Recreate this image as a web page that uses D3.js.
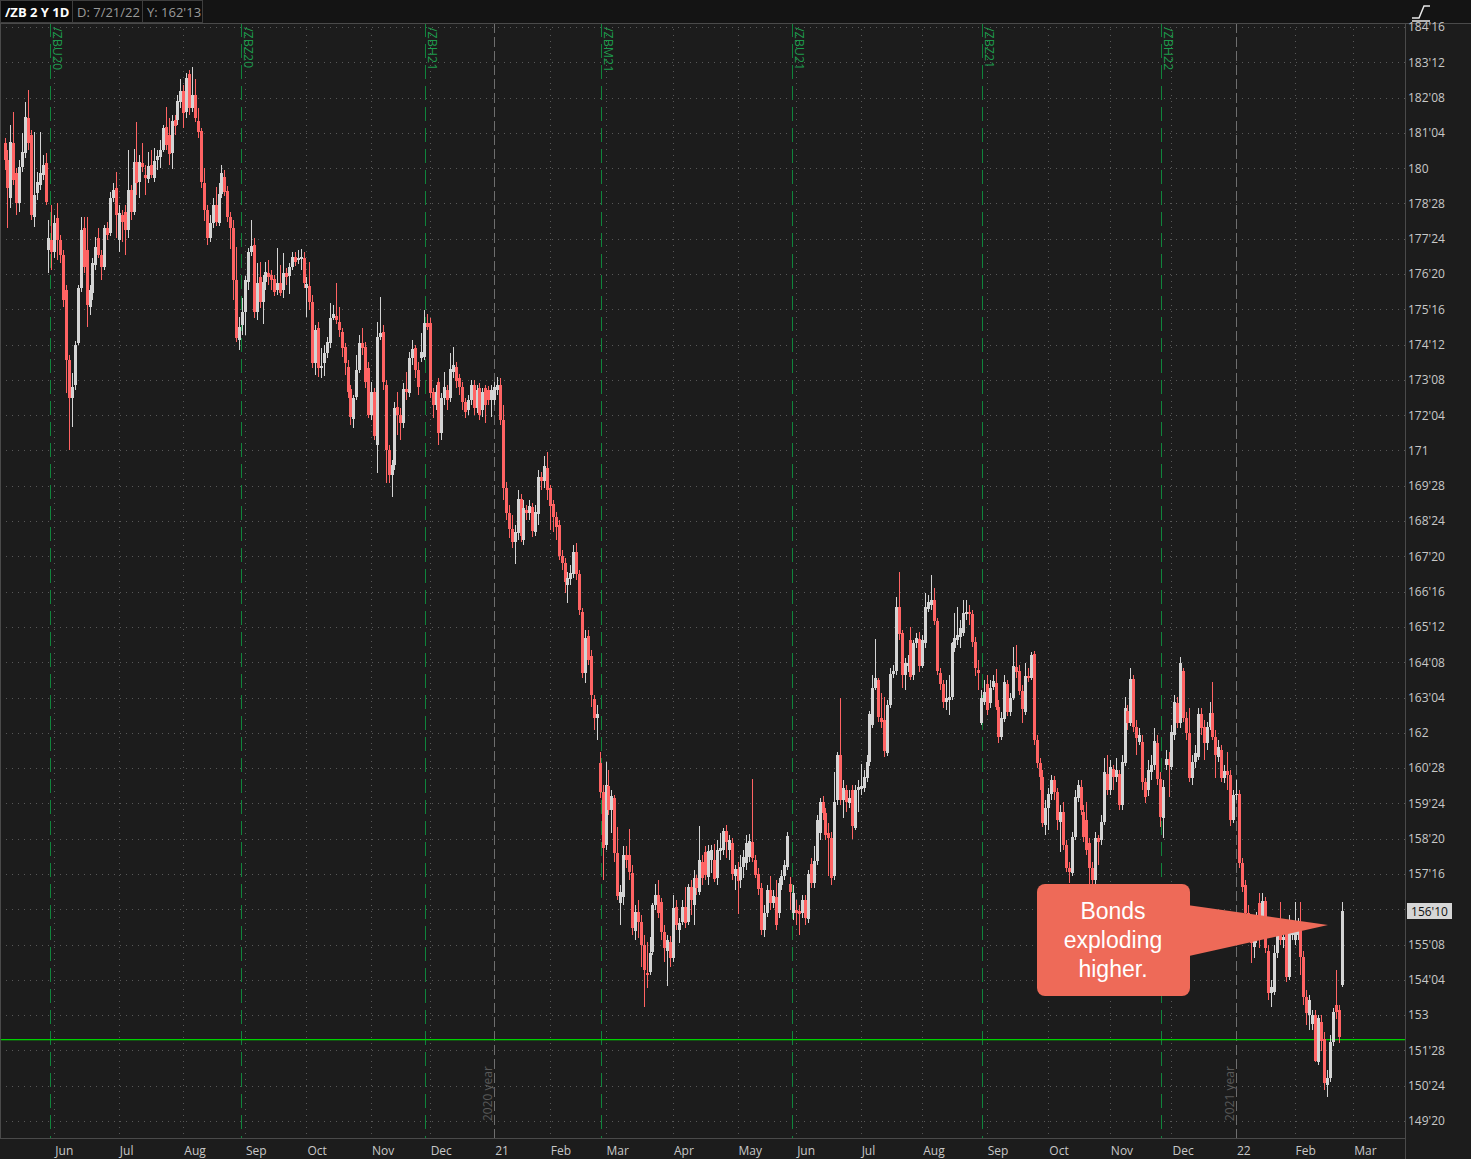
<!DOCTYPE html>
<html><head><meta charset="utf-8">
<script src="https://cdn.jsdelivr.net/npm/d3@7"></script>
<style>
html,body{margin:0;padding:0;background:#1b1b1b;}
svg{display:block;}
</style></head><body>
<svg id="c" width="1471" height="1159"></svg>
<script>
// ---- DATA (daily /ZB candles, index 0 = first visible session) ----
const open = [
180.79,180.26,179.04,180.79,179.84,178.88,180.04,180.47,181.60,181.05,
178.44,179.20,179.46,179.78,180.16,177.39,177.71,177.33,178.40,177.71,
177.23,176.11,173.88,172.67,173.08,174.42,176.18,178.08,177.39,175.57,
176.01,176.91,177.77,177.23,176.84,178.08,177.93,179.04,179.37,177.71,
178.50,178.60,178.02,179.30,178.60,180.20,179.56,180.16,179.78,179.65,
180.10,179.69,180.26,180.36,180.57,181.31,181.05,180.47,181.53,181.53,
182.11,182.46,181.79,183.00,181.92,182.33,181.50,181.18,179.52,178.66,
177.77,178.24,178.82,178.24,179.17,179.72,179.27,178.44,178.08,176.43,
174.52,175.00,175.41,176.37,177.33,177.55,175.41,176.52,175.73,176.37,
176.65,176.59,176.46,176.11,176.33,176.11,176.65,176.56,176.84,177.17,
177.07,177.10,177.13,176.18,176.24,175.73,173.78,174.90,173.62,173.78,
174.10,174.42,175.22,175.28,175.09,174.78,174.30,173.66,172.96,172.00,
172.70,173.56,174.42,174.30,173.62,172.13,172.86,171.17,174.62,174.78,
173.08,171.01,170.21,170.53,172.38,172.13,171.87,172.96,172.83,173.95,
174.27,173.56,173.95,173.98,175.06,175.06,172.86,172.45,173.18,171.55,
172.67,172.92,172.67,173.50,173.66,173.31,173.02,172.54,172.29,172.61,
173.08,172.35,172.99,172.29,172.99,172.92,172.61,172.61,172.92,173.08,
171.97,169.80,169.01,168.50,168.08,168.37,169.45,168.14,169.10,169.01,
169.20,168.40,168.97,170.15,170.02,170.44,169.80,169.29,168.88,168.62,
167.63,167.41,166.71,166.90,167.06,167.76,167.06,165.85,163.91,165.08,
164.45,163.07,162.47,161.04,160.11,158.42,160.30,159.53,159.92,158.16,
156.57,156.76,158.10,158.10,157.53,155.68,156.28,155.96,155.23,154.34,
154.37,155.01,156.50,156.82,156.60,155.64,155.06,155.33,154.81,156.44,
155.70,155.96,156.44,155.96,157.08,156.50,157.37,156.92,157.88,158.20,
157.40,157.94,157.94,157.37,158.23,158.25,158.86,158.25,158.48,157.43,
157.66,157.30,157.72,157.85,158.04,158.52,157.94,157.50,157.05,155.70,
156.25,156.98,156.57,156.76,156.25,157.14,157.43,157.72,157.18,156.25,
156.34,156.31,156.25,156.66,156.06,157.82,157.21,157.91,158.80,159.79,
159.44,158.80,158.64,157.43,159.85,161.29,159.85,160.17,159.76,160.17,
158.96,160.17,160.20,160.24,160.56,161.07,162.25,163.43,163.68,162.47,
162.40,161.36,162.88,163.87,163.97,166.01,165.18,163.84,164.13,164.96,
163.84,164.86,164.99,164.13,164.86,165.95,166.07,166.23,165.56,163.91,
163.56,162.98,163.04,163.14,164.70,164.96,165.05,165.18,165.79,165.85,
165.79,164.89,164.00,162.31,162.98,163.56,162.95,163.46,163.59,162.82,
161.86,162.44,163.56,162.66,163.11,164.10,163.97,163.33,162.66,163.81,
163.75,164.51,161.76,161.04,160.59,159.06,159.60,160.05,160.49,160.11,
159.15,159.47,158.42,157.69,157.53,158.68,159.92,160.27,159.47,159.21,
158.48,157.69,157.30,158.64,158.57,159.15,160.69,160.17,160.85,160.59,
160.69,159.69,161.04,162.69,162.31,163.72,162.18,161.70,161.70,160.43,
160.17,160.75,160.97,161.67,160.53,159.28,160.97,161.16,160.91,161.93,
162.95,162.31,163.97,162.47,161.99,160.56,161.07,161.23,162.60,162.18,
161.67,162.18,162.63,161.86,161.23,161.45,160.56,160.78,160.65,159.21,
160.01,160.05,157.85,157.14,156.25,155.96,155.17,155.38,156.57,155.96,
156.63,155.06,153.70,153.73,154.98,155.81,155.38,155.65,154.21,155.55,
155.38,155.55,155.96,154.85,153.57,152.99,152.73,152.99,151.49,152.79,
152.25,150.77,150.99,152.13,153.31,153.15,153.95];
const high = [
180.95,180.57,181.37,181.79,180.00,180.26,181.11,182.11,182.49,181.21,
181.15,179.88,181.15,180.41,180.47,178.34,178.82,178.50,178.88,177.87,
177.39,176.27,174.04,173.46,174.49,176.27,178.44,178.44,178.44,176.27,
177.13,177.80,178.08,177.39,178.18,178.28,179.24,179.52,179.88,178.82,
178.66,178.82,180.57,179.46,180.61,181.47,180.41,180.79,180.10,180.51,
180.57,180.64,180.57,180.89,181.37,181.95,181.60,181.69,181.69,182.33,
182.84,182.65,183.03,183.13,183.22,182.84,181.92,181.28,180.00,178.82,
178.50,179.04,179.40,179.52,180.10,179.94,179.43,178.60,178.34,177.49,
175.25,175.86,176.56,177.45,178.34,177.77,176.97,177.00,176.59,177.00,
177.07,176.75,176.59,177.45,176.91,177.29,176.81,176.97,177.33,177.33,
177.39,177.42,177.33,176.52,177.00,175.95,175.00,175.09,174.27,174.36,
174.62,175.70,175.63,176.33,175.57,174.90,174.42,173.88,173.08,172.77,
174.04,174.68,174.90,174.46,173.82,173.18,172.99,175.09,175.89,175.00,
173.24,171.17,170.69,172.54,172.86,172.35,173.15,173.50,174.14,174.52,
174.36,173.82,174.74,175.47,175.35,175.22,172.99,173.08,173.31,172.82,
173.50,173.08,174.10,174.30,173.82,173.43,173.18,172.67,172.77,173.24,
173.24,173.08,173.15,172.99,173.08,173.05,173.08,173.18,173.34,173.31,
172.45,169.99,169.26,168.94,168.62,169.74,169.61,169.42,169.26,169.42,
169.32,169.26,170.37,170.31,170.82,170.95,169.90,169.42,169.04,168.78,
167.82,167.57,167.13,167.35,167.98,168.05,167.19,165.98,165.27,165.27,
164.64,163.20,162.88,161.39,160.33,161.07,160.81,160.17,160.01,158.99,
157.14,158.39,158.39,158.93,157.78,156.50,156.66,156.18,155.55,155.33,
155.49,156.57,157.18,157.30,156.73,155.87,155.55,155.52,156.82,156.66,
156.09,156.66,157.08,157.18,157.30,157.62,157.46,159.03,158.10,158.39,
158.42,158.42,158.45,158.57,158.80,158.96,159.06,158.73,158.64,157.78,
157.88,158.10,158.25,158.73,158.77,160.53,158.10,157.69,157.21,156.50,
157.14,157.43,156.98,157.30,157.37,157.62,157.94,158.84,157.40,157.14,
156.66,156.50,156.82,156.82,157.62,158.01,158.39,159.37,159.92,159.98,
159.60,159.12,158.84,160.75,161.39,163.11,160.49,160.33,160.17,160.33,
160.33,160.49,161.00,160.81,161.29,162.69,163.84,164.99,163.75,163.27,
163.14,163.04,164.07,164.16,166.33,167.13,165.27,164.39,164.48,165.37,
164.96,165.18,165.21,165.12,166.46,166.39,167.03,166.62,165.66,164.07,
163.68,163.68,163.84,164.89,165.82,166.01,165.59,166.23,166.23,166.07,
165.91,165.05,164.32,163.36,163.68,163.84,163.68,163.84,164.03,163.04,
162.66,163.84,163.68,163.27,164.73,164.80,164.16,163.52,164.23,164.07,
164.58,164.61,161.93,161.20,160.81,159.85,160.24,160.65,160.62,160.24,
159.69,159.79,158.57,157.88,158.84,160.17,160.49,160.49,159.69,159.79,
158.64,157.88,158.84,158.73,159.37,161.20,161.29,161.13,160.97,161.20,
160.81,161.29,163.14,162.88,164.07,163.84,162.40,162.15,161.93,160.56,
161.13,161.29,162.15,161.93,160.75,160.49,161.45,161.39,162.25,163.20,
163.14,164.42,164.07,162.66,162.79,161.29,161.61,162.79,162.79,162.40,
162.34,162.98,163.62,162.08,161.76,161.61,160.97,161.39,160.81,160.17,
160.49,160.17,158.01,157.30,156.50,156.18,155.55,156.28,156.89,156.89,
156.76,155.23,154.11,155.23,155.87,156.60,155.70,155.87,156.18,155.96,
156.60,156.09,156.60,155.06,153.79,153.63,153.15,153.15,152.99,152.99,
152.45,151.24,152.38,153.22,154.43,153.31,156.60];
const low = [
179.94,178.08,178.72,179.46,178.50,178.60,179.88,180.31,180.57,178.34,
178.12,178.98,179.30,179.62,178.82,176.65,176.75,177.13,177.07,176.97,
175.57,172.82,171.01,171.75,172.92,174.36,176.05,176.65,174.93,175.31,
175.79,176.75,177.13,176.43,176.75,177.71,177.83,178.92,177.77,177.33,
177.64,177.23,177.77,178.34,178.50,179.14,179.04,179.88,179.14,179.52,
179.69,179.56,179.94,180.00,180.51,180.57,180.10,179.97,181.05,181.37,
181.92,181.28,181.60,181.69,181.79,181.47,180.95,179.37,178.31,177.55,
177.64,178.08,178.15,178.15,179.04,179.11,178.28,177.42,175.79,174.46,
174.20,174.68,174.68,176.11,177.20,175.22,175.16,175.54,175.03,176.11,
176.27,176.11,175.92,175.95,175.92,175.86,176.27,175.98,176.75,176.88,
176.94,176.75,176.18,175.25,175.47,173.62,173.40,173.34,173.31,173.37,
173.95,174.27,175.16,175.03,174.62,173.98,173.40,172.67,171.81,171.71,
172.61,173.46,174.04,172.99,172.03,171.97,171.33,170.28,174.52,172.92,
169.96,169.96,169.52,170.37,171.49,171.33,171.71,172.61,172.70,173.72,
173.31,172.77,173.82,173.88,174.84,172.67,172.03,172.29,171.17,171.33,
172.45,172.29,172.54,173.31,172.99,172.77,172.29,172.03,172.13,172.45,
172.13,172.19,171.97,172.07,171.87,172.45,172.07,172.45,172.77,171.81,
169.42,168.78,168.21,167.89,167.38,168.14,168.08,167.98,168.78,168.78,
168.24,168.27,168.62,169.74,169.80,169.42,168.46,168.40,168.14,167.51,
167.19,166.46,166.14,166.71,166.94,166.87,165.75,163.75,163.59,164.16,
162.82,162.08,161.76,159.92,157.30,158.25,159.37,158.80,157.88,156.66,
155.87,156.50,157.69,157.30,155.55,155.38,155.45,154.53,153.25,153.86,
154.27,154.91,156.34,156.09,155.38,154.69,153.92,154.53,154.69,155.70,
155.29,155.87,155.77,155.87,156.18,155.87,156.82,156.82,157.14,157.30,
157.14,157.53,157.24,157.14,157.94,158.10,158.01,157.94,157.30,156.98,
156.22,157.05,157.37,157.62,157.88,157.88,157.37,156.82,155.55,155.49,
156.12,156.34,156.41,155.70,156.09,156.98,157.30,157.62,156.34,156.02,
155.87,155.55,156.09,155.87,155.93,157.05,157.05,157.78,158.57,159.21,
158.57,157.43,157.14,157.30,159.69,159.69,159.28,159.47,159.60,158.61,
158.89,159.47,160.01,160.11,160.43,160.94,162.15,163.36,162.34,162.15,
161.23,161.26,162.79,163.75,163.84,164.96,163.43,163.36,163.94,163.68,
163.68,164.70,163.94,164.07,164.70,165.85,165.91,165.44,163.84,163.36,
162.79,162.72,162.56,163.04,164.58,164.80,164.70,165.09,165.59,165.44,
164.73,163.81,163.36,162.25,162.88,162.56,162.79,163.36,162.72,161.67,
161.76,162.34,162.53,162.53,163.04,163.75,163.20,162.31,162.56,163.62,
163.68,161.61,160.88,160.17,158.99,158.74,158.89,159.85,159.85,158.89,
158.20,158.25,157.56,157.21,157.43,158.57,159.79,159.37,158.52,158.10,
157.14,157.18,157.18,157.78,158.42,159.06,160.01,160.01,160.17,160.43,
159.53,159.53,160.94,162.08,162.21,162.02,161.29,161.61,160.17,159.76,
159.98,160.49,160.81,160.33,158.99,158.64,160.81,159.95,160.81,161.76,
162.15,162.15,162.34,161.76,160.43,160.33,160.88,161.13,161.93,161.13,
161.45,162.08,161.76,160.56,161.07,160.43,160.40,160.17,159.03,159.12,
159.85,157.69,156.92,156.09,155.38,154.66,154.82,155.29,155.13,155.87,
154.98,153.47,153.25,153.63,154.82,155.23,155.13,154.05,154.11,155.38,
155.23,155.38,154.27,153.31,152.67,152.51,152.51,151.49,151.40,151.87,
150.60,150.39,150.86,152.03,152.89,152.10,153.89];
const close = [
180.26,179.37,180.83,179.62,178.88,180.04,180.51,181.63,180.79,178.50,
179.14,179.56,179.84,180.10,178.92,177.77,177.33,178.24,177.71,177.23,
175.79,173.88,172.67,173.02,174.36,176.18,178.02,176.84,175.63,176.11,
176.97,177.49,177.23,176.84,178.08,177.87,179.04,179.30,178.50,178.56,
178.28,178.02,179.30,178.60,180.20,179.52,180.20,180.04,179.69,180.07,
179.78,180.23,180.39,180.57,181.28,180.73,180.45,181.50,181.34,182.14,
182.46,181.76,182.87,181.92,182.33,181.60,181.15,179.56,178.66,177.77,
178.24,178.82,178.28,179.17,179.84,179.24,178.44,178.08,176.43,174.58,
174.93,175.41,176.43,177.33,177.52,175.41,176.33,175.73,176.37,176.69,
176.52,176.43,176.05,176.33,176.01,176.65,176.52,176.84,177.17,177.00,
177.13,177.17,176.33,176.30,175.73,173.78,174.84,173.62,173.69,174.10,
174.46,175.22,175.35,175.16,174.84,174.27,173.78,172.86,172.07,172.67,
173.56,174.42,174.27,173.18,172.13,172.86,171.46,174.62,174.74,173.18,
171.01,170.21,170.53,172.35,172.13,171.87,172.96,172.86,173.95,174.23,
173.56,173.02,174.14,175.06,174.93,172.82,172.45,172.86,171.55,172.67,
173.02,172.61,173.59,173.72,173.21,173.02,172.54,172.22,172.61,173.08,
172.35,172.92,172.13,172.86,172.45,172.61,172.92,173.02,173.08,171.97,
169.80,169.01,168.50,168.08,168.40,169.45,168.27,169.17,169.01,169.23,
168.43,169.04,170.15,170.02,170.50,169.74,169.23,168.88,168.56,167.63,
167.41,166.81,166.94,167.10,167.76,167.06,165.91,163.91,165.02,164.32,
163.20,162.47,162.60,160.11,158.33,160.33,159.53,159.98,158.16,156.80,
156.92,158.10,157.94,157.56,155.78,156.28,155.96,155.23,154.43,154.27,
154.98,156.50,156.82,156.25,155.64,155.13,155.38,154.81,156.41,155.87,
155.93,156.44,155.93,157.08,156.66,157.37,157.05,157.94,157.37,157.46,
158.23,158.25,157.34,158.25,158.33,158.86,158.51,158.57,157.50,157.66,
157.27,157.72,158.04,158.48,158.55,158.01,157.46,157.02,155.70,156.25,
156.98,156.57,156.80,155.87,157.21,157.43,157.78,158.71,156.92,156.89,
156.25,156.22,156.66,156.09,157.50,157.21,157.91,159.21,159.79,159.44,
158.74,158.64,157.37,159.79,161.29,159.85,160.24,159.79,159.92,159.03,
160.17,160.27,160.30,160.59,161.07,162.60,163.43,163.75,162.50,162.34,
161.42,162.88,163.87,163.97,166.01,165.15,163.84,164.23,164.23,163.78,
164.86,165.02,164.13,164.96,166.01,166.17,166.23,165.56,163.97,163.56,
162.98,163.11,163.14,164.86,165.02,165.12,165.34,165.82,165.85,165.79,
164.89,164.07,163.91,163.11,163.30,162.72,163.43,163.65,162.82,161.86,
162.47,163.62,162.66,163.11,164.13,163.94,163.33,162.76,163.81,163.75,
164.48,161.76,161.04,160.59,159.12,159.60,160.05,160.49,160.11,159.21,
159.47,158.42,157.69,157.56,158.68,159.95,160.33,159.53,158.68,158.25,
157.69,157.30,158.64,158.52,159.15,160.75,160.17,160.91,160.59,160.81,
159.69,161.07,162.79,162.31,163.72,162.18,161.83,161.93,160.43,159.95,
160.81,160.97,161.73,160.53,159.31,160.27,161.16,160.97,162.02,162.98,
162.31,164.23,162.47,161.99,160.56,161.07,161.36,162.60,162.15,161.67,
162.18,162.63,161.86,161.29,161.54,160.56,160.78,160.65,159.21,160.01,
160.05,157.85,157.08,156.25,155.96,155.29,155.38,156.06,155.38,156.63,
155.13,153.70,153.89,154.98,155.55,155.38,155.49,154.21,155.81,155.77,
155.77,155.96,154.85,153.57,153.07,153.47,152.99,151.55,152.92,152.19,
150.83,150.99,152.13,153.09,153.09,152.31,156.31];

const monthLabels = ["Jun","Jul","Aug","Sep","Oct","Nov","Dec","21","Feb","Mar","Apr","May","Jun","Jul","Aug","Sep","Oct","Nov","Dec","22","Feb","Mar"];
const monthStart  = [17,39,61,82,103,125,145,167,186,205,228,250,270,292,313,335,356,377,398,420,440,460];
const yearLabels = ["2020 year","2021 year"];
const yearStart  = [167,420];
const rollLabels = ["/ZBU20","/ZBZ20","/ZBH21","/ZBM21","/ZBU21","/ZBZ21","/ZBH22"];
const rollStart  = [16,81,144,204,269,334,395];
const priceTicks = [149.625,150.75,151.875,153,154.125,155.25,156.375,157.5,158.625,159.75,160.875,162,
  163.125,164.25,165.375,166.5,167.625,168.75,169.875,171,172.125,173.25,174.375,175.5,176.625,177.75,
  178.875,180,181.125,182.25,183.375,184.5];
const levelLine = 152.25;
const lastPrice = 156.3125;
const headerItems = ["/ZB 2 Y 1D","D: 7/21/22","Y: 162'13"];
const noteLines = ["Bonds","exploding","higher."];

// ---- DRAWING ----
const W=1471, H=1159, plotR=1405, plotT=23, plotB=1138;
const UI='"Open Sans","DejaVu Sans",sans-serif';
const svg=d3.select('#c');
svg.append('rect').attr('width',W).attr('height',H).attr('fill','#1c1c1c');

const x=d3.scaleLinear().domain([0,open.length-1]).range([4.5,1341.5]);
const y=d3.scaleLinear().domain([149.625,184.5]).range([1121,27]);
const step=x(1)-x(0);
const fmt32=d=>{const i=Math.floor(d+1e-9);const t=Math.round((d-i)*32);return t?i+"'"+String(t).padStart(2,'0'):String(i);};
const px=v=>Math.round(v)+0.5;

const grid=svg.append('g');
grid.selectAll('line.h').data(priceTicks).join('line').attr('class','h')
  .attr('x1',0).attr('x2',plotR).attr('y1',d=>px(y(d))).attr('y2',d=>px(y(d)))
  .style('stroke','#585858').attr('stroke-dasharray','1,5');
grid.selectAll('line.m').data(monthStart.filter(d=>!yearStart.includes(d)&&x(d)<plotR)).join('line').attr('class','m')
  .attr('x1',d=>px(x(d))).attr('x2',d=>px(x(d))).attr('y1',plotT).attr('y2',plotB)
  .style('stroke','#585858').attr('stroke-dasharray','1,5');
grid.selectAll('line.y').data(yearStart).join('line').attr('class','y')
  .attr('x1',d=>px(x(d))).attr('x2',d=>px(x(d))).attr('y1',plotT).attr('y2',plotB)
  .style('stroke','#6e6e6e').attr('stroke-dasharray','10,4');
grid.selectAll('text.y').data(yearStart).join('text').attr('class','y')
  .attr('transform',d=>`translate(${px(x(d))-3},1121) rotate(-90)`)
  .style('font-family',UI).style('font-size','12px').style('fill','#5a5a5a').text((d,i)=>yearLabels[i]);
grid.selectAll('line.r').data(rollStart).join('line').attr('class','r')
  .attr('x1',d=>px(x(d)-step/2)).attr('x2',d=>px(x(d)-step/2)).attr('y1',plotT).attr('y2',plotB)
  .style('stroke','#10843c').attr('stroke-dasharray','14,7');
grid.selectAll('text.r').data(rollStart).join('text').attr('class','r')
  .attr('transform',d=>`translate(${px(x(d)-step/2)+2},27) rotate(90)`)
  .style('font-family',UI).style('font-size','12.5px').style('fill','#1e9a4c').text((d,i)=>rollLabels[i]);
// level line (drawn as a 1px filled strip)
svg.append('rect').attr('class','level').attr('x',0).attr('width',plotR)
  .attr('y',Math.round(y(levelLine))).attr('height',1.3)
  .style('fill','#00d000');

// candles
const idx=d3.range(open.length);
const cg=svg.append('g').attr('shape-rendering','crispEdges');
const col=i=>close[i]>=open[i]?'#d4d4d4':'#ff6363';
cg.selectAll('rect.w').data(idx).join('rect').attr('class','w')
  .attr('x',i=>Math.round(x(i))).attr('width',1)
  .attr('y',i=>Math.round(y(high[i]))).attr('height',i=>Math.max(1,Math.round(y(low[i]))-Math.round(y(high[i]))))
  .style('fill',col);
cg.selectAll('rect.b').data(idx).join('rect').attr('class','b')
  .attr('x',i=>Math.round(x(i))-1).attr('width',2.5)
  .attr('y',i=>Math.round(y(Math.max(open[i],close[i]))))
  .attr('height',i=>Math.max(1,Math.round(y(Math.min(open[i],close[i])))-Math.round(y(Math.max(open[i],close[i])))))
  .style('fill',col);

// frame
svg.append('rect').attr('x',0).attr('y',0).attr('width',W).attr('height',plotT).style('fill','#141414');
const fr=[[0,plotT+0.5,W,plotT+0.5],[plotR+0.5,plotT,plotR+0.5,H],[0,plotB+0.5,plotR,plotB+0.5],[0.5,plotT,0.5,plotB]];
svg.selectAll('line.fr').data(fr).join('line').attr('class','fr')
  .attr('x1',d=>d[0]).attr('y1',d=>d[1]).attr('x2',d=>d[2]).attr('y2',d=>d[3]).style('stroke','#4a4a4a');

// header boxes
const hb=[[0,72],[72,142],[142,202]];
const hg=svg.append('g');
hb.forEach((b,i)=>{
  hg.append('rect').attr('x',b[0]+0.5).attr('y',0.5).attr('width',b[1]-b[0]).attr('height',plotT-1)
    .style('fill',i==0?'#0b0b0b':'#0e0e0e').style('stroke','#3e3e3e');
  hg.append('text').attr('x',b[0]+5).attr('y',17)
    .style('font-family',UI).style('font-size','13px').style('font-weight',i==0?'bold':'normal')
    .style('fill',i==0?'#ffffff':'#9a9a9a').text(headerItems[i]);
});
// icon top-right
svg.append('path').attr('d','M1412,18 L1419,18 L1424,6 L1430,6').style('fill','none').style('stroke','#e8e8e8').style('stroke-width','1.5px');
svg.append('line').attr('x1',1412).attr('x2',1430).attr('y1',21).attr('y2',21).style('stroke','#e8e8e8').style('stroke-width','1.5px');

// y axis (label hidden where the last-price tag sits)
const shown=priceTicks.filter(d=>Math.abs(y(d)-y(lastPrice))>9);
const ya=svg.append('g').attr('transform',`translate(${plotR},0)`)
  .call(d3.axisRight(y).tickValues(shown).tickFormat(fmt32).tickSize(0).tickPadding(3));
ya.select('.domain').remove();
ya.selectAll('text').style('fill','#c8c8c8').style('font-size','12px').style('font-family',UI);
// last price tag
svg.append('rect').attr('x',1407).attr('y',Math.round(y(lastPrice))-8).attr('width',45).attr('height',16).style('fill','#d6d6d6');
svg.append('text').attr('x',1429.5).attr('y',Math.round(y(lastPrice))+4.5).attr('text-anchor','middle')
  .style('font-family',UI).style('font-size','12px').style('fill','#111').text(fmt32(lastPrice));

// x axis labels
svg.selectAll('text.xl').data(monthStart).join('text').attr('class','xl')
  .attr('x',d=>x(d)+1).attr('y',1155)
  .style('font-family',UI).style('font-size','12px').style('fill','#c8c8c8')
  .text((d,i)=>monthLabels[i]);

// annotation
const ag=svg.append('g');
ag.append('path').attr('d','M1180,904 L1328,925 L1180,958 Z').style('fill','#ee6a58');
ag.append('rect').attr('x',1037).attr('y',884).attr('width',153).attr('height',112).attr('rx',8).style('fill','#ee6a58');
ag.selectAll('text.note').data(noteLines).join('text').attr('class','note')
  .attr('x',1113).attr('y',(d,i)=>919+i*29).attr('text-anchor','middle')
  .style('font-family','"Liberation Sans",Arial,sans-serif').style('font-size','23px').style('fill','#ffffff').text(d=>d);
</script>
</body></html>
